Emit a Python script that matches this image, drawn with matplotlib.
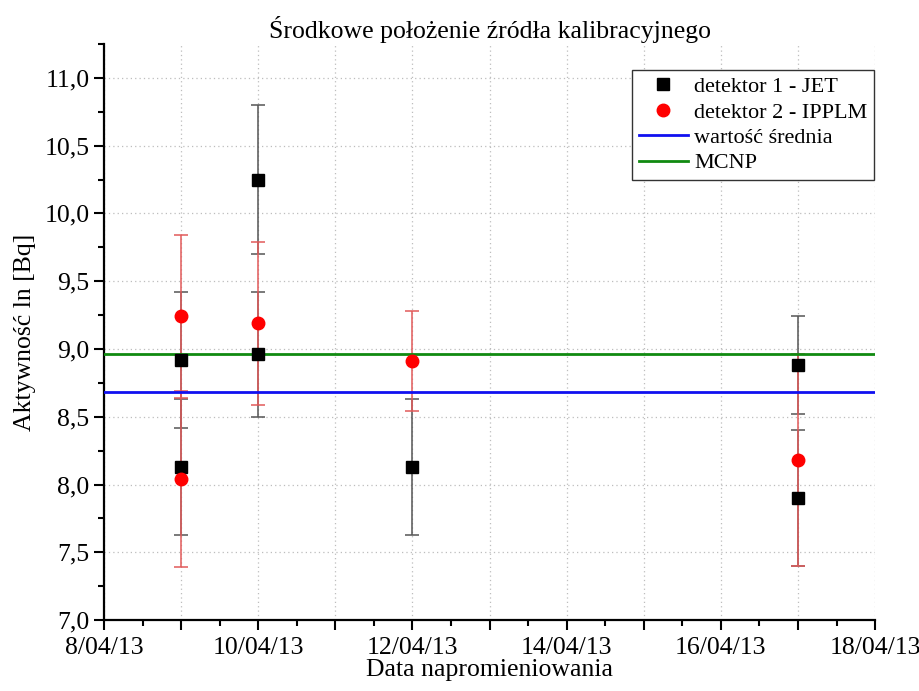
import datetime as dt
import matplotlib
matplotlib.use("Agg")
import matplotlib.pyplot as plt
import matplotlib.dates as mdates
from matplotlib.lines import Line2D
from matplotlib.ticker import MultipleLocator, FuncFormatter

plt.rcParams["font.family"] = ["Liberation Serif", "DejaVu Serif"]

# Detector 1 (JET) measurements
jet_dates = ["2013-04-09", "2013-04-09", "2013-04-10", "2013-04-10",
             "2013-04-12", "2013-04-17", "2013-04-17"]
jet_values = [8.92, 8.13, 10.25, 8.96, 8.13, 8.88, 7.90]
jet_errors = [0.50, 0.50, 0.55, 0.46, 0.50, 0.36, 0.50]

# Detector 2 (IPPLM) measurements
ipplm_dates = ["2013-04-09", "2013-04-09", "2013-04-10", "2013-04-12", "2013-04-17"]
ipplm_values = [9.24, 8.04, 9.19, 8.91, 8.18]
ipplm_errors = [0.60, 0.65, 0.60, 0.37, 0.78]

mean_value = 8.68
mcnp_value = 8.96

x_start, x_end = "2013-04-08", "2013-04-18"


def to_dates(items):
    return [dt.datetime.strptime(s, "%Y-%m-%d") for s in items]


fig = plt.figure(figsize=(9.19, 6.91), dpi=100)
ax = fig.add_axes([0.1132, 0.1027, 0.8390, 0.8336])

jx = to_dates(jet_dates)
ix = to_dates(ipplm_dates)

ax.errorbar(jx, jet_values, yerr=jet_errors, fmt="none", ecolor="#555555",
            elinewidth=1.1, capsize=5, capthick=1.1, zorder=3)
ax.errorbar(ix, ipplm_values, yerr=ipplm_errors, fmt="none", ecolor="#e25a5a",
            elinewidth=1.1, capsize=5, capthick=1.1, zorder=3)

ax.axhline(mean_value, color="#1010f0", lw=2.0, zorder=4)
ax.axhline(mcnp_value, color="#108a10", lw=2.0, zorder=4)

ax.plot(jx, jet_values, ls="none", marker="s", ms=8, color="black", zorder=5)
ax.plot(ix, ipplm_values, ls="none", marker="o", ms=9, color="#ff0000",
        markeredgecolor="#ff0000", zorder=6)

ax.set_xlim(to_dates([x_start])[0], to_dates([x_end])[0])
ax.set_ylim(7.0, 11.25)

ax.xaxis.set_major_locator(mdates.DayLocator(interval=1))
ax.xaxis.set_minor_locator(mdates.HourLocator(byhour=[12]))


def date_label(v, pos):
    d = mdates.num2date(v)
    if d.day % 2:
        return ""
    return f"{d.day}/{d.month:02d}/{d.year % 100}"


ax.xaxis.set_major_formatter(FuncFormatter(date_label))
ax.yaxis.set_major_locator(MultipleLocator(0.5))
ax.yaxis.set_minor_locator(MultipleLocator(0.25))
ax.yaxis.set_major_formatter(FuncFormatter(lambda v, p: f"{v:.1f}".replace(".", ",")))

ax.grid(True, which="major", axis="both", color="#bdbdbd", lw=0.9,
        linestyle=(0, (1, 2.5)), zorder=0)

for side in ("top", "right"):
    ax.spines[side].set_visible(False)
for side in ("left", "bottom"):
    ax.spines[side].set_linewidth(1.6)

ax.tick_params(axis="both", which="major", direction="out", length=7, width=1.5,
               labelsize=18.5)
ax.tick_params(axis="x", which="major", pad=5)
ax.tick_params(axis="both", which="minor", direction="out", length=4, width=1.5)

ax.set_title("Środkowe położenie źródła kalibracyjnego", fontsize=18.5, pad=4)
ax.set_xlabel("Data napromieniowania", fontsize=18.5, labelpad=0)
ax.set_ylabel("Aktywność ln [Bq]", fontsize=18.5, labelpad=6)

handles = [
    Line2D([], [], ls="none", marker="s", ms=8, color="black"),
    Line2D([], [], ls="none", marker="o", ms=9, color="#ff0000"),
    Line2D([], [], color="#1010f0", lw=2.0),
    Line2D([], [], color="#108a10", lw=2.0),
]
labels = ["detektor 1 - JET", "detektor 2 - IPPLM", "wartość średnia", "MCNP"]
leg = ax.legend(handles, labels, loc="upper right", bbox_to_anchor=(0.999, 0.955),
                fontsize=16, frameon=True, fancybox=False, edgecolor="#333333",
                framealpha=1, borderaxespad=0, handlelength=2.2, handletextpad=0.3,
                labelspacing=0.22, borderpad=0.3)
leg.get_frame().set_linewidth(1.0)

fig.savefig("out.png", dpi=100)
